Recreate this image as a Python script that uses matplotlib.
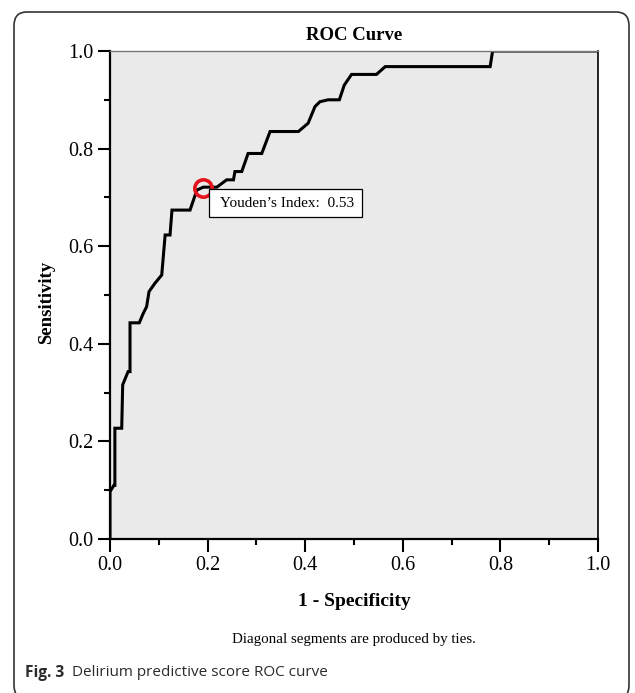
import matplotlib
matplotlib.use("Agg")
import matplotlib.pyplot as plt
from matplotlib.patches import FancyBboxPatch, Rectangle
from matplotlib.ticker import MultipleLocator

# ROC curve (1 - specificity, sensitivity)
fpr = [0.000, 0.000, 0.008, 0.010, 0.010, 0.024, 0.026, 0.037, 0.041, 0.041,
       0.060, 0.068, 0.075, 0.080, 0.092, 0.106, 0.113, 0.123, 0.127, 0.164,
       0.178, 0.191, 0.219, 0.239, 0.253, 0.256, 0.270, 0.283, 0.311, 0.328,
       0.386, 0.406, 0.420, 0.430, 0.447, 0.470, 0.480, 0.495, 0.546, 0.564,
       0.779, 0.784, 1.000]
tpr = [0.000, 0.097, 0.110, 0.110, 0.227, 0.227, 0.316, 0.343, 0.343, 0.443,
       0.443, 0.462, 0.476, 0.507, 0.524, 0.541, 0.623, 0.623, 0.674, 0.674,
       0.715, 0.721, 0.721, 0.736, 0.736, 0.753, 0.753, 0.790, 0.790, 0.835,
       0.835, 0.852, 0.886, 0.896, 0.900, 0.900, 0.930, 0.952, 0.952, 0.968,
       0.968, 1.000, 1.000]

youden_pt = (0.19, 0.72)
youden_label = "Youden\u2019s Index:  0.53"
ticks = [0.0, 0.2, 0.4, 0.6, 0.8, 1.0]

serif = "Liberation Serif"

fig = plt.figure(figsize=(6.35, 6.93), dpi=100)
ax = fig.add_axes([110/635, 1 - 539/693, 488/635, 488/693])
ax.set_facecolor("#eaeaea")

ax.plot(fpr, tpr, color="black", lw=2.2, solid_joinstyle="miter")
ax.plot(*youden_pt, marker="o", ms=12.5, mfc="none", mec="#e3141b", mew=2.6)

# annotation box
ax.add_patch(Rectangle((0.203, 0.659), 0.313, 0.058, fc="white", ec="black",
                       lw=0.9, zorder=4))
ax.text(0.362, 0.688, youden_label, ha="center", va="center",
        family=serif, fontsize=11, zorder=5)

ax.set_xlim(0, 1)
ax.set_ylim(0, 1)
ax.set_xticks(ticks)
ax.set_yticks(ticks)
ax.set_xticklabels([f"{t:.1f}" for t in ticks])
ax.set_yticklabels([f"{t:.1f}" for t in ticks])
ax.xaxis.set_minor_locator(MultipleLocator(0.1))
ax.yaxis.set_minor_locator(MultipleLocator(0.1))
ax.tick_params(which="major", length=9, width=1.5, pad=3, labelsize=14.5)
ax.tick_params(which="minor", length=4.5, width=1.5)
for lab in ax.get_xticklabels() + ax.get_yticklabels():
    lab.set_family(serif)

for s in ["left", "bottom"]:
    ax.spines[s].set_linewidth(1.6)
ax.spines["top"].set_color("#777777")
ax.spines["top"].set_linewidth(1.0)
ax.spines["right"].set_linewidth(1.2)

fig.text(354/635, 1 - 36/693, "ROC Curve", ha="center", va="center",
         family=serif, weight="bold", fontsize=13.5)
fig.text(354/635, 1 - 601/693, "1 - Specificity", ha="center", va="center",
         family=serif, weight="bold", fontsize=14)
fig.text(47/635, 1 - 302/693, "Sensitivity", ha="center", va="center",
         rotation=90, family=serif, weight="bold", fontsize=13.5)
fig.text(354/635, 1 - 639/693, "Diagonal segments are produced by ties.",
         ha="center", va="center", family=serif, fontsize=10.8)

# figure caption
fig.text(25/635, 1 - 673/693, "Fig. 3", ha="left", va="center",
         family="Open Sans", weight="bold", fontsize=11.2, color="#2b2b2b")
fig.text(72/635, 1 - 673/693, "Delirium predictive score ROC curve",
         ha="left", va="center", family="Open Sans", fontsize=11,
         color="#2b2b2b")

# outer rounded frame
frame = FancyBboxPatch((14/635, -6/693), 615/635, 687/693,
                       boxstyle="round,pad=0,rounding_size=0.02",
                       transform=fig.transFigure, fill=False,
                       ec="#333333", lw=1.2, clip_on=False)
fig.patches.append(frame)

fig.savefig("out.png", dpi=100)
